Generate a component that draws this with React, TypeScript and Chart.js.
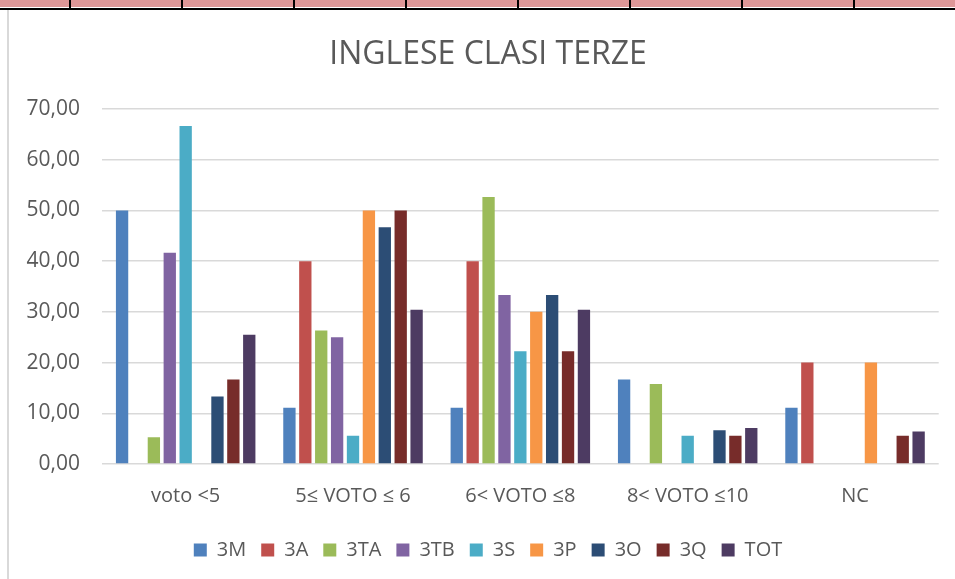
import React, { useEffect, useRef } from "react";
import { Chart, registerables } from "chart.js";

Chart.register(...registerables);

const categories = ["voto <5", "5≤ VOTO ≤ 6", "6< VOTO ≤8", "8< VOTO ≤10", "NC"];
const seriesNames = ["3M", "3A", "3TA", "3TB", "3S", "3P", "3O", "3Q", "TOT"];
const seriesColors = ["#4F81BD", "#C0504D", "#9BBB59", "#8064A2", "#4BACC6", "#F79646", "#2C4D75", "#772C2A", "#4D3B62"];
const v3M = [50.0, 11.11, 11.11, 16.67, 11.11];
const v3A = [0, 40.0, 40.0, 0, 20.0];
const v3TA = [5.26, 26.32, 52.63, 15.79, 0];
const v3TB = [41.67, 25.0, 33.33, 0, 0];
const v3S = [66.67, 5.56, 22.22, 5.56, 0];
const v3P = [0, 50.0, 30.0, 0, 20.0];
const v3O = [13.33, 46.67, 33.33, 6.67, 0];
const v3Q = [16.67, 50.0, 22.22, 5.56, 5.56];
const vTOT = [25.5, 30.4, 30.4, 7.1, 6.4];
const seriesValues = [v3M, v3A, v3TA, v3TB, v3S, v3P, v3O, v3Q, vTOT];
const yMax = 70;
const yStep = 10;

const FONT = "'Open Sans', 'DejaVu Sans', sans-serif";
const TEXT = "#595959";
const stripLines = [70, 182, 294, 406, 518, 630, 742, 854];

export default function App() {
  const ref = useRef<HTMLCanvasElement | null>(null);
  useEffect(() => {
    if (!ref.current) return;
    const chart = new Chart(ref.current, {
      type: "bar",
      data: {
        labels: categories,
        datasets: seriesNames.map((n, i) => ({
          label: n,
          data: seriesValues[i],
          backgroundColor: seriesColors[i],
          borderWidth: 0,
          categoryPercentage: 0.855,
          barPercentage: 0.775,
        })),
      },
      options: {
        animation: false,
        responsive: false,
        maintainAspectRatio: false,
        layout: { padding: { left: 0, right: 0, top: 0, bottom: 9 } },
        plugins: {
          title: {
            display: true,
            text: "INGLESE CLASI TERZE",
            color: TEXT,
            font: { family: FONT, size: 32, weight: "normal" },
            padding: { top: 26, bottom: 34.6 },
          },
          legend: {
            position: "bottom",
            labels: {
              color: TEXT,
              font: { family: FONT, size: 20 },
              boxWidth: 13,
              boxHeight: 13,
              padding: 15,
            },
          },
          tooltip: { enabled: false },
        },
        scales: {
          x: {
            afterFit: (s: any) => { s.height = s.height - 3; },
            grid: { display: false, drawTicks: false },
            border: { display: false },
            ticks: { color: TEXT, font: { family: FONT, size: 20 }, padding: 20, maxRotation: 0 },
          },
          y: {
            min: 0,
            max: yMax,
            afterFit: (s: any) => { s.width = 92; },
            grid: { color: "#d9d9d9", lineWidth: 1.5, drawTicks: false },
            border: { display: false },
            ticks: {
              stepSize: yStep,
              color: TEXT,
              font: { family: FONT, size: 21 },
              padding: 22,
              callback: (v: any) => Number(v).toFixed(2).replace(".", ","),
            },
          },
          ySpacer: {
            type: "linear",
            position: "right",
            min: 0,
            max: yMax,
            afterFit: (s: any) => { s.width = 27.3; },
            grid: { display: false, drawTicks: false },
            border: { display: false },
            ticks: { display: false },
          },
        },
      },
    });
    return () => chart.destroy();
  }, []);

  return (
    <div style={{ position: "fixed", left: 0, top: 0, width: 955, height: 579, overflow: "hidden", background: "#fff" }}>
      <div style={{ position: "absolute", left: 0, top: 0, width: 955, height: 7, background: "#DE9798" }} />
      {stripLines.map((x) => (
        <div key={x} style={{ position: "absolute", left: x - 1, top: 0, width: 2, height: 8, background: "#000" }} />
      ))}
      <div style={{ position: "absolute", left: 0, top: 8, width: 955, height: 2, background: "#000" }} />
      <div style={{ position: "absolute", left: 7, top: 10, width: 2, height: 569, background: "#d9d9d9" }} />
      <canvas ref={ref} width={956} height={569} style={{ position: "absolute", left: 10, top: 10, width: 956, height: 569 }} />
    </div>
  );
}
